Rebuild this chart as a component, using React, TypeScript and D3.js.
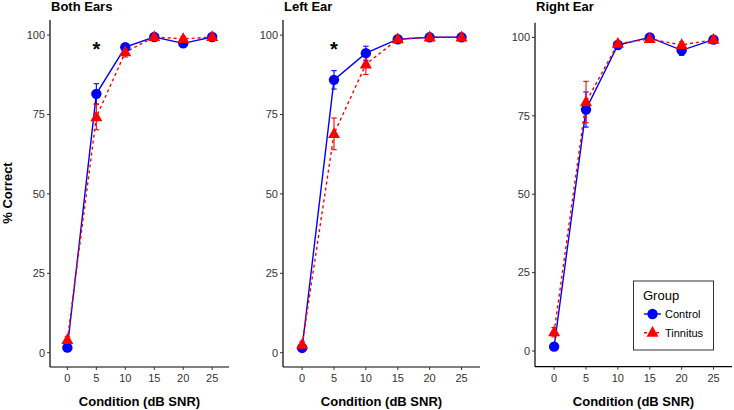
import React from "react";
import * as d3 from "d3";

const conditions = [0, 5, 10, 15, 20, 25];
const panelTitles = ["Both Ears", "Left Ear", "Right Ear"];

const controlBoth = [1.6, 81.5, 96.2, 99.4, 97.4, 99.4];
const controlBothErr = [0.8, 3.2, 1.0, 0.6, 0.8, 0.6];
const tinnitusBoth = [4.0, 74.2, 94.6, 99.4, 98.8, 99.4];
const tinnitusBothErr = [1.0, 4.0, 1.5, 0.6, 0.8, 0.6];

const controlLeft = [1.5, 85.9, 94.3, 98.7, 99.3, 99.3];
const controlLeftErr = [0.7, 2.9, 2.2, 1.0, 0.6, 0.6];
const tinnitusLeft = [2.5, 68.9, 90.8, 98.7, 99.3, 99.3];
const tinnitusLeftErr = [1.0, 5.0, 3.2, 1.0, 0.6, 0.6];

const controlRight = [1.4, 77.0, 97.6, 100.0, 95.9, 99.3];
const controlRightErr = [0.8, 5.6, 0.8, 0.4, 1.6, 0.8];
const tinnitusRight = [6.0, 79.4, 98.0, 99.5, 97.6, 99.3];
const tinnitusRightErr = [1.5, 6.6, 0.8, 0.5, 1.0, 0.8];

const significant = [[5], [5], []];
const yTicks = [0, 25, 50, 75, 100];
const xTicks = [0, 5, 10, 15, 20, 25];
const groups = ["Control", "Tinnitus"];

const seriesData = [
  [controlBoth, controlBothErr, tinnitusBoth, tinnitusBothErr],
  [controlLeft, controlLeftErr, tinnitusLeft, tinnitusLeftErr],
  [controlRight, controlRightErr, tinnitusRight, tinnitusRightErr],
];

const panels = [
  { x0: 50, x1: 229, top: 20, bottom: 367, yLo: -4.5, yHi: 104.75, titleX: 51 },
  { x0: 283, x1: 480, top: 20, bottom: 367, yLo: -4.5, yHi: 104.75, titleX: 284 },
  { x0: 535, x1: 732, top: 22.7, bottom: 366.7, yLo: -5.0, yHi: 104.7, titleX: 536 },
];

const BLUE = "#0000FF";
const RED = "#FF0000";
const FONT = "Arial, 'Liberation Sans', Helvetica, sans-serif";

function triPath(cx: number, cy: number, s: number) {
  const h = s * 0.9;
  return `M${cx},${cy - h * 0.62}L${cx + s / 2},${cy + h * 0.38}L${cx - s / 2},${cy + h * 0.38}Z`;
}

function Panel({ idx }: { idx: number }) {
  const p = panels[idx];
  const x = d3.scaleLinear().domain([-3, 27.9]).range([p.x0, p.x1]);
  const y = d3.scaleLinear().domain([p.yLo, p.yHi]).range([p.bottom, p.top]);
  const [cV, cE, tV, tE] = seriesData[idx];
  const line = d3
    .line<number>()
    .x((_, i) => x(conditions[i]))
    .y((d) => y(d));
  const cap = 2.7;
  const errBars = (vals: number[], errs: number[], color: string) =>
    vals.map((v, i) => {
      const cx = x(conditions[i]);
      const yt = y(v + errs[i]);
      const yb = y(v - errs[i]);
      return (
        <g key={i} stroke={color} strokeWidth={1.1}>
          <line x1={cx} x2={cx} y1={yt} y2={yb} />
          <line x1={cx - cap} x2={cx + cap} y1={yt} y2={yt} />
          <line x1={cx - cap} x2={cx + cap} y1={yb} y2={yb} />
        </g>
      );
    });
  return (
    <g>
      <text x={p.titleX} y={11} fontFamily={FONT} fontWeight="bold" fontSize={13} fill="#000">
        {panelTitles[idx]}
      </text>
      {/* axes */}
      <line x1={p.x0} x2={p.x0} y1={p.top} y2={p.bottom} stroke="#000" strokeWidth={1.2} />
      <line x1={p.x0} x2={p.x1} y1={p.bottom} y2={p.bottom} stroke="#000" strokeWidth={1.2} />
      {yTicks.map((t) => (
        <g key={"y" + t}>
          <line x1={p.x0 - 3} x2={p.x0} y1={y(t)} y2={y(t)} stroke="#333" strokeWidth={1} />
          <text x={p.x0 - 5} y={y(t)} dy="0.35em" textAnchor="end" fontFamily={FONT} fontSize={11} fill="#333">
            {t}
          </text>
        </g>
      ))}
      {xTicks.map((t) => (
        <g key={"x" + t}>
          <line x1={x(t)} x2={x(t)} y1={p.bottom} y2={p.bottom + 3} stroke="#333" strokeWidth={1} />
          <text x={x(t)} y={p.bottom + 15} textAnchor="middle" fontFamily={FONT} fontSize={11} fill="#333">
            {t}
          </text>
        </g>
      ))}
      <text x={(p.x0 + p.x1) / 2} y={406} textAnchor="middle" fontFamily={FONT} fontWeight="bold" fontSize={13} fill="#000">
        Condition (dB SNR)
      </text>
      {/* lines */}
      <path d={line(cV) || ""} fill="none" stroke={BLUE} strokeWidth={1.4} />
      <path d={line(tV) || ""} fill="none" stroke={RED} strokeWidth={1.4} strokeDasharray="3,3" />
      {errBars(cV, cE, BLUE)}
      {errBars(tV, tE, RED)}
      {cV.map((v, i) => (
        <circle key={"c" + i} cx={x(conditions[i])} cy={y(v)} r={5.2} fill={BLUE} />
      ))}
      {tV.map((v, i) => (
        <path key={"t" + i} d={triPath(x(conditions[i]), y(v), 12)} fill={RED} />
      ))}
      {significant[idx].map((s) => (
        <text key={"s" + s} x={x(s)} y={y(97) + 11} textAnchor="middle" fontFamily={FONT} fontWeight="bold" fontSize={20} fill="#000">
          *
        </text>
      ))}
    </g>
  );
}

export default function App() {
  return (
    <svg width={734} height={410} style={{ position: "absolute", left: 0, top: 0, background: "#fff" }}>
      <rect width={734} height={410} fill="#fff" />
      <text
        transform="translate(12,193) rotate(-90)"
        textAnchor="middle"
        fontFamily={FONT}
        fontWeight="bold"
        fontSize={13}
        fill="#000"
      >
        % Correct
      </text>
      {panels.map((_, i) => (
        <Panel key={i} idx={i} />
      ))}
      <g>
        <rect x={633.5} y={281} width={80} height={69} fill="#fff" stroke="#333" strokeWidth={1} />
        <text x={643} y={300} fontFamily={FONT} fontSize={13} fill="#000">
          Group
        </text>
        {groups.map((g, i) => {
          const cy = 314 + i * 18.7;
          return (
            <g key={g}>
              {i === 0 ? (
                <>
                  <line x1={644} x2={661} y1={cy} y2={cy} stroke={BLUE} strokeWidth={1.4} />
                  <circle cx={652.5} cy={cy} r={5.2} fill={BLUE} />
                </>
              ) : (
                <>
                  <line x1={644} x2={661} y1={cy} y2={cy} stroke={RED} strokeWidth={1.4} strokeDasharray="3,3" />
                  <path d={triPath(652.5, cy, 12)} fill={RED} />
                </>
              )}
              <text x={665} y={cy} dy="0.35em" fontFamily={FONT} fontSize={11} fill="#000">
                {g}
              </text>
            </g>
          );
        })}
      </g>
    </svg>
  );
}
